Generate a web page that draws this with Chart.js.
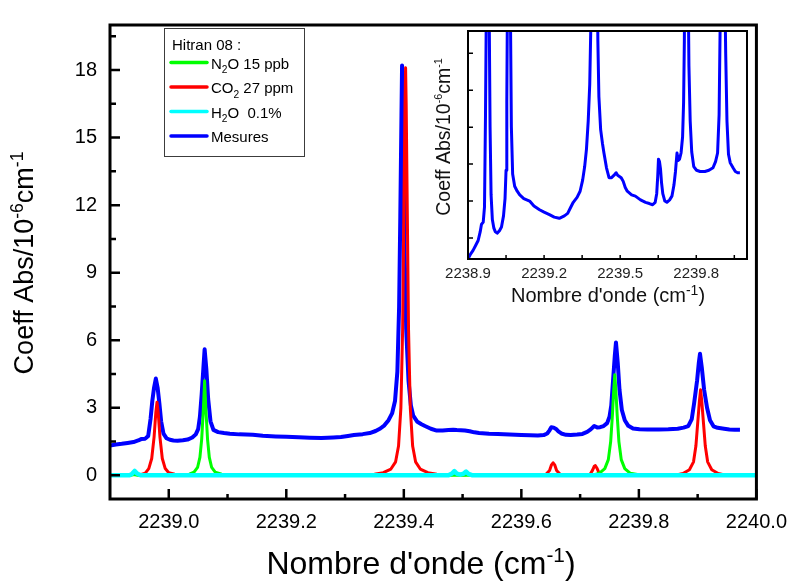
<!DOCTYPE html>
<html><head><meta charset="utf-8">
<script src="https://cdn.jsdelivr.net/npm/chart.js@4.4.0/dist/chart.umd.min.js"></script>
<style>
html,body{margin:0;padding:0;background:#fff;}
#wrap{position:relative;width:798px;height:581px;overflow:hidden;background:#fff;}
#main{position:absolute;left:0;top:0;width:798px;height:581px;}
#inset{position:absolute;left:422px;top:22px;width:330px;height:290px;}
</style></head><body>
<div id="wrap">
<canvas id="main" width="798" height="581"></canvas>
<canvas id="inset" width="330" height="290"></canvas>
</div>
<script>
// ---------------- data ----------------
const mesuresX = [2238.900,2238.910,2238.920,2238.930,2238.940,2238.948,2238.953,2238.960,2238.965,2238.969,2238.972,2238.975,2238.978,2238.981,2238.984,2238.987,2238.991,2238.996,2239.002,2239.008,2239.015,2239.024,2239.032,2239.040,2239.046,2239.050,2239.053,2239.056,2239.059,2239.061,2239.064,2239.067,2239.071,2239.076,2239.084,2239.094,2239.104,2239.120,2239.143,2239.160,2239.182,2239.200,2239.221,2239.240,2239.260,2239.280,2239.293,2239.305,2239.315,2239.330,2239.342,2239.352,2239.360,2239.367,2239.374,2239.380,2239.385,2239.389,2239.392,2239.394,2239.396,2239.397,2239.399,2239.401,2239.404,2239.408,2239.412,2239.416,2239.423,2239.430,2239.436,2239.446,2239.456,2239.466,2239.476,2239.484,2239.490,2239.497,2239.504,2239.512,2239.520,2239.528,2239.545,2239.560,2239.580,2239.600,2239.615,2239.628,2239.638,2239.644,2239.648,2239.651,2239.655,2239.659,2239.663,2239.668,2239.676,2239.684,2239.695,2239.704,2239.712,2239.718,2239.724,2239.729,2239.734,2239.740,2239.746,2239.750,2239.753,2239.756,2239.759,2239.761,2239.764,2239.767,2239.771,2239.776,2239.782,2239.790,2239.801,2239.815,2239.834,2239.850,2239.866,2239.876,2239.884,2239.890,2239.894,2239.899,2239.902,2239.904,2239.907,2239.911,2239.916,2239.921,2239.927,2239.934,2239.945,2239.954,2239.963,2239.972];
const mesuresY = [1.33,1.37,1.40,1.44,1.48,1.55,1.61,1.63,1.75,2.5,3.3,3.9,4.3,3.9,3.2,2.4,1.85,1.65,1.58,1.55,1.54,1.56,1.59,1.68,1.82,2.05,2.6,3.6,4.8,5.6,4.7,3.4,2.4,2.02,1.92,1.88,1.85,1.82,1.80,1.76,1.73,1.71,1.69,1.67,1.66,1.68,1.70,1.75,1.79,1.83,1.88,1.97,2.08,2.22,2.45,2.75,3.3,4.6,7.5,11.5,16.0,18.2,15.0,10.5,6.5,4.2,3.1,2.65,2.38,2.27,2.19,2.07,1.99,1.99,2.01,2.03,2.01,2.00,1.99,1.96,1.91,1.88,1.85,1.84,1.81,1.79,1.78,1.77,1.79,1.86,2.00,2.14,2.12,2.06,1.95,1.86,1.80,1.79,1.81,1.84,1.93,2.04,2.19,2.13,2.14,2.19,2.32,2.60,3.10,4.20,5.30,5.90,5.00,3.80,2.90,2.45,2.20,2.08,2.05,2.04,2.04,2.05,2.07,2.12,2.19,2.50,3.20,4.20,5.00,5.40,4.80,3.80,3.00,2.45,2.18,2.11,2.07,2.04,2.03,2.03];

const co2X = [2238.900,2238.932,2238.937,2238.941,2238.945,2238.952,2238.960,2238.966,2238.971,2238.975,2238.978,2238.980,2238.982,2238.985,2238.989,2238.994,2239.000,2239.010,2239.030,2239.060,2239.330,2239.350,2239.365,2239.378,2239.386,2239.391,2239.395,2239.398,2239.400,2239.402,2239.403,2239.404,2239.406,2239.408,2239.411,2239.415,2239.420,2239.428,2239.441,2239.456,2239.475,2239.485,2239.489,2239.494,2239.505,2239.509,2239.514,2239.530,2239.630,2239.642,2239.648,2239.651,2239.654,2239.657,2239.660,2239.666,2239.680,2239.710,2239.717,2239.721,2239.724,2239.726,2239.729,2239.732,2239.738,2239.750,2239.860,2239.875,2239.886,2239.893,2239.897,2239.900,2239.903,2239.905,2239.907,2239.910,2239.913,2239.917,2239.924,2239.935,2239.950,2239.960];
const co2Y = [0,0,0.04,0.10,0.04,0.03,0.10,0.30,0.75,1.7,2.8,3.25,2.8,1.7,0.75,0.30,0.12,0.05,0.02,0,0,0.05,0.12,0.28,0.6,1.3,3.0,6.5,11.5,16.5,18.1,16.5,11.5,6.5,3.0,1.3,0.6,0.28,0.12,0.05,0.02,0.04,0.08,0.03,0.03,0.07,0.02,0,0,0.05,0.22,0.45,0.56,0.45,0.22,0.05,0,0,0.05,0.22,0.40,0.43,0.30,0.12,0.03,0,0,0.08,0.25,0.6,1.3,2.3,3.3,3.8,3.3,2.3,1.3,0.6,0.25,0.08,0,0];

const n2oX = [2238.900,2238.935,2238.941,2238.947,2239.020,2239.035,2239.043,2239.049,2239.053,2239.056,2239.059,2239.061,2239.063,2239.066,2239.069,2239.073,2239.079,2239.090,2239.110,2239.720,2239.733,2239.742,2239.748,2239.752,2239.755,2239.757,2239.759,2239.761,2239.763,2239.766,2239.770,2239.776,2239.785,2239.800,2239.820,2239.960];
const n2oY = [0,0,0.04,0,0,0.05,0.14,0.35,0.8,1.6,3.0,4.2,3.0,1.6,0.8,0.35,0.14,0.05,0,0,0.1,0.3,0.7,1.5,2.7,3.7,4.47,3.7,2.7,1.5,0.7,0.3,0.1,0.03,0,0];

const h2oX = [2238.900,2238.933,2238.938,2238.942,2238.946,2238.952,2239.476,2239.482,2239.486,2239.490,2239.496,2239.502,2239.506,2239.510,2239.517,2240.000];
const h2oY = [0,0,0.08,0.2,0.08,0,0,0.08,0.19,0.08,0.03,0.08,0.17,0.07,0,0];

const xTickValues = [2239.0,2239.2,2239.4,2239.6,2239.8,2240.0];
const xMinorTicks = [2239.1,2239.3,2239.5,2239.7,2239.9];
const yTickValues = [0,3,6,9,12,15,18];
const yMinorTicks = [1.5,4.5,7.5,10.5,13.5,16.5,19.5];
const insetXTickValues = [2238.9,2239.2,2239.5,2239.8];
const insetXMinorTicks = [2239.05,2239.35,2239.65,2239.95];
const insetYTickValues = [1.5,1.8,2.1,2.4,2.7,3.0];

const legendTitle = 'Hitran 08 :';
const legendLabels = ['N_{2}O 15 ppb','CO_{2} 27 ppm','H_{2}O  0.1%','Mesures'];
const legendColors = ['#00ff00','#ff0000','#00ffff','#0000ff'];
const xTitle = "Nombre d'onde (cm^{-1})";
const yTitle = 'Coeff Abs/10^{-6}cm^{-1}';

// ---------------- helpers ----------------
const FONT = "'Liberation Sans', Arial, Helvetica, sans-serif";
const pts = (xs, ys) => xs.map((x, i) => ({x: x, y: ys[i]}));

function parseRich(str) {
  const runs = []; const re = /([\^_])\{([^}]*)\}/g; let last = 0, m;
  while ((m = re.exec(str))) {
    if (m.index > last) runs.push({t: str.slice(last, m.index), m: 'n'});
    runs.push({t: m[2], m: m[1] === '^' ? 'sup' : 'sub'});
    last = re.lastIndex;
  }
  if (last < str.length) runs.push({t: str.slice(last), m: 'n'});
  return runs;
}
function drawRich(ctx, str, x, y, size, align, sc, raise) {
  const runs = parseRich(str);
  let total = 0;
  runs.forEach(r => { ctx.font = (r.m === 'n' ? size : size * sc) + 'px ' + FONT; r.w = ctx.measureText(r.t).width; total += r.w; });
  let cx = align === 'center' ? x - total / 2 : x;
  ctx.textAlign = 'left'; ctx.textBaseline = 'alphabetic';
  runs.forEach(r => {
    ctx.font = (r.m === 'n' ? size : size * sc) + 'px ' + FONT;
    const dy = r.m === 'sup' ? -size * raise : (r.m === 'sub' ? size * 0.3 : 0);
    ctx.fillText(r.t, cx, y + dy);
    cx += r.w;
  });
}

function drawLegend(ctx) {
  ctx.save();
  ctx.strokeStyle = '#3c3c3c'; ctx.lineWidth = 1;
  ctx.strokeRect(164.5, 28.5, 140, 128);
  ctx.fillStyle = '#000';
  ctx.font = '15px ' + FONT; ctx.textAlign = 'left'; ctx.textBaseline = 'alphabetic';
  ctx.fillText(legendTitle, 172, 50);
  legendLabels.forEach((lab, i) => {
    const yy = 62.5 + i * 24.5;
    ctx.strokeStyle = legendColors[i]; ctx.lineWidth = 3.5; ctx.lineCap = 'round';
    ctx.beginPath(); ctx.moveTo(171, yy); ctx.lineTo(207, yy); ctx.stroke();
    ctx.fillStyle = '#000';
    drawRich(ctx, lab, 211, yy + 6, 15, 'left', 0.68, 0.4);
  });
  ctx.restore();
}

const mainDecor = {
  id: 'mainDecor',
  afterDraw(chart) {
    const ctx = chart.ctx, a = chart.chartArea, xs = chart.scales.x, ys = chart.scales.y;
    ctx.save();
    ctx.strokeStyle = '#000'; ctx.lineWidth = 3;
    ctx.strokeRect(a.left, a.top, a.right - a.left, a.bottom - a.top);
    ctx.lineWidth = 2.5; ctx.beginPath();
    xTickValues.forEach(v => { const p = xs.getPixelForValue(v); ctx.moveTo(p, a.bottom); ctx.lineTo(p, a.bottom - 10); });
    xMinorTicks.forEach(v => { const p = xs.getPixelForValue(v); ctx.moveTo(p, a.bottom); ctx.lineTo(p, a.bottom - 5); });
    yTickValues.forEach(v => { const p = ys.getPixelForValue(v); ctx.moveTo(a.left, p); ctx.lineTo(a.left + 10, p); });
    yMinorTicks.forEach(v => { const p = ys.getPixelForValue(v); ctx.moveTo(a.left, p); ctx.lineTo(a.left + 6, p); });
    ctx.stroke();
    ctx.fillStyle = '#000';
    drawRich(ctx, xTitle, 421, 574, 32, 'center', 0.65, 0.36);
    ctx.save(); ctx.translate(33, 263); ctx.rotate(-Math.PI / 2);
    drawRich(ctx, yTitle, 0, 0, 27, 'center', 0.65, 0.36);
    ctx.restore();
    drawLegend(ctx);
    ctx.restore();
  }
};

const insetDecor = {
  id: 'insetDecor',
  afterDraw(chart) {
    const ctx = chart.ctx, a = chart.chartArea, xs = chart.scales.x, ys = chart.scales.y;
    ctx.save();
    ctx.strokeStyle = '#000'; ctx.lineWidth = 2;
    ctx.strokeRect(a.left, a.top, a.right - a.left, a.bottom - a.top);
    ctx.lineWidth = 1.5; ctx.beginPath();
    insetYTickValues.forEach(v => { const p = ys.getPixelForValue(v); ctx.moveTo(a.left, p); ctx.lineTo(a.left + 5, p); });
    insetXTickValues.forEach(v => { const p = xs.getPixelForValue(v); ctx.moveTo(p, a.bottom); ctx.lineTo(p, a.bottom - 4); });
    insetXMinorTicks.forEach(v => { const p = xs.getPixelForValue(v); ctx.moveTo(p, a.bottom); ctx.lineTo(p, a.bottom - 4); });
    ctx.stroke();
    ctx.fillStyle = '#111';
    drawRich(ctx, xTitle, 186, 280, 20, 'center', 0.7, 0.33);
    ctx.save(); ctx.translate(28, 115); ctx.rotate(-Math.PI / 2);
    drawRich(ctx, yTitle, 0, 0, 19.5, 'center', 0.55, 0.42);
    ctx.restore();
    ctx.restore();
  }
};

const lineDs = (label, xs, ys, color, w, order) => ({
  label: label, data: pts(xs, ys), borderColor: color, backgroundColor: color,
  borderWidth: w, pointRadius: 0, tension: 0, fill: false, order: order,
  borderJoinStyle: 'round'
});

new Chart(document.getElementById('main'), {
  type: 'line',
  data: {
    datasets: [
      lineDs('Mesures', mesuresX, mesuresY, '#0000ff', 4, 3),
      lineDs('CO2 27 ppm', co2X, co2Y, '#ff0000', 3, 2),
      lineDs('N2O 15 ppb', n2oX, n2oY, '#00ff00', 3, 1),
      lineDs('H2O 0.1%', h2oX, h2oY, '#00ffff', 4.5, 0)
    ]
  },
  options: {
    responsive: false, animation: false, devicePixelRatio: 1, events: [],
    layout: {padding: {top: 14, right: 38, left: 0, bottom: 0}},
    plugins: {legend: {display: false}, tooltip: {enabled: false}},
    scales: {
      x: {
        type: 'linear', min: 2238.9, max: 2240.0,
        afterBuildTicks: s => { s.ticks = xTickValues.map(v => ({value: v})); },
        afterFit: s => { s.height = 82; },
        grid: {display: false, drawTicks: false}, border: {display: false},
        ticks: {color: '#000', font: {family: FONT, size: 20}, padding: 11, maxRotation: 0, autoSkip: false,
                callback: v => Number(v).toFixed(1)}
      },
      y: {
        type: 'linear', min: -1.05, max: 20,
        afterBuildTicks: s => { s.ticks = yTickValues.map(v => ({value: v})); },
        afterFit: s => { s.width = 110; },
        grid: {display: false, drawTicks: false}, border: {display: false},
        ticks: {color: '#000', font: {family: FONT, size: 20}, padding: 13, autoSkip: false,
                callback: v => String(v)}
      }
    }
  },
  plugins: [mainDecor]
});

new Chart(document.getElementById('inset'), {
  type: 'line',
  data: {datasets: [lineDs('Mesures', mesuresX, mesuresY, '#0000ff', 3, 0)]},
  options: {
    responsive: false, animation: false, devicePixelRatio: 1, events: [],
    layout: {padding: {top: 9, right: 5, left: 0, bottom: 0}},
    plugins: {legend: {display: false}, tooltip: {enabled: false}},
    scales: {
      x: {
        type: 'linear', min: 2238.9, max: 2240.0,
        afterBuildTicks: s => { s.ticks = insetXTickValues.map(v => ({value: v})); },
        afterFit: s => { s.height = 53; },
        grid: {display: false, drawTicks: false}, border: {display: false},
        ticks: {color: '#222', font: {family: FONT, size: 15}, padding: 6, maxRotation: 0, autoSkip: false,
                callback: v => Number(v).toFixed(1)}
      },
      y: {
        type: 'linear', min: 1.33, max: 3.18,
        afterBuildTicks: s => { s.ticks = insetYTickValues.map(v => ({value: v})); },
        afterFit: s => { s.width = 46; },
        grid: {display: false, drawTicks: false}, border: {display: false},
        ticks: {display: false}
      }
    }
  },
  plugins: [insetDecor]
});
</script>
</body></html>
